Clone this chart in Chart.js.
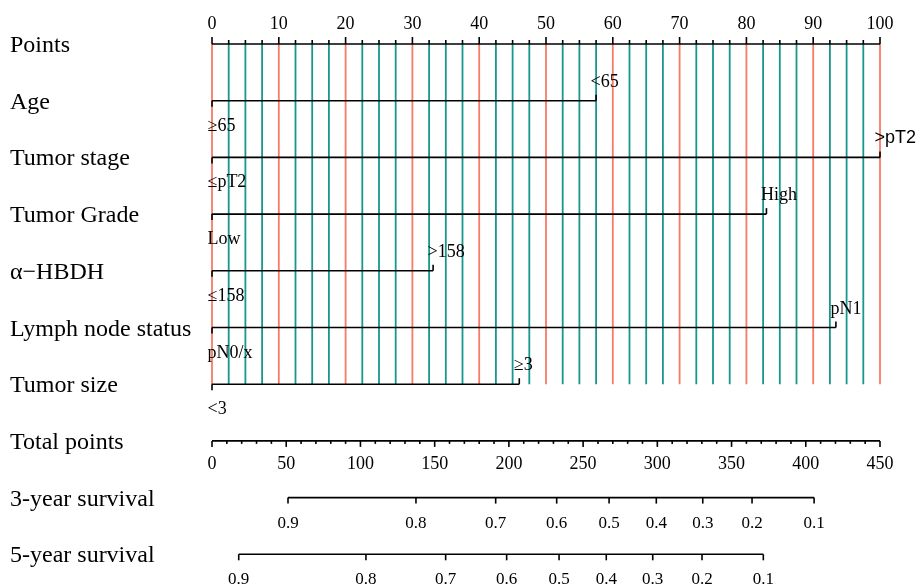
<!DOCTYPE html>
<html>
<head>
<meta charset="utf-8">
<script src="https://cdn.jsdelivr.net/npm/chart.js@4/dist/chart.umd.min.js"></script>
<style>
  html, body { margin: 0; padding: 0; background: #fff; }
  #wrap { width: 919px; height: 586px; }
</style>
</head>
<body>
<div id="wrap"><canvas id="nomo" width="919" height="586"></canvas></div>
<script>
// row titles, top to bottom
const rowNames = ['Points', 'Age', 'Tumor stage', 'Tumor Grade', '\u03b1\u2212HBDH',
  'Lymph node status', 'Tumor size', 'Total points', '3-year survival', '5-year survival'];

// points scale
const pointTicks = [0, 10, 20, 30, 40, 50, 60, 70, 80, 90, 100];

// predictors (row 1..6): low level sits at 0 points, high level at highPoints
const lowLabels = ['\u226565', '\u2264pT2', 'Low', '\u2264158', 'pN0/x', '<3'];
const highLabels = ['<65', '>pT2', 'High', '>158', 'pN1', '\u22653'];
const highPoints = [57.5, 100, 83, 33.1, 93.4, 46];

// total points scale
const totalTicks = [0, 50, 100, 150, 200, 250, 300, 350, 400, 450];

// survival scales (total points where each probability falls)
const survLabels = ['0.9', '0.8', '0.7', '0.6', '0.5', '0.4', '0.3', '0.2', '0.1'];
const surv3Points = [51.2, 137.4, 191.1, 232.2, 267.5, 299.3, 330.6, 363.8, 405.6];
const surv5Points = [18.0, 103.7, 157.4, 198.5, 233.8, 265.6, 296.9, 330.1, 371.4];

const RED = '#fa7a68';
const TEAL = '#17988f';
const serif = '"Liberation Serif", "Times New Roman", serif';
const sans = '"Liberation Sans", Arial, sans-serif';

// vertical guide lines every 2.5 points, from Points row down to Tumor size row
let redLines = [], tealLines = [];
for (let v = 0; v <= 100; v += 2.5) {
  let seg = [{x: v, y: 0}, {x: v, y: 6}, {x: v, y: null}];
  if (v % 10 === 0) redLines.push(...seg);
  else tealLines.push(...seg);
}

// axis segments
let pointAxes = [{x: 0, y: 0}, {x: 100, y: 0}, {x: 100, y: null}];
highPoints.forEach((p, i) => {
  pointAxes.push({x: 0, y: i + 1}, {x: p, y: i + 1}, {x: p, y: null});
});
let totalAxes = [
  {x: 0, y: 7}, {x: 450, y: 7}, {x: 450, y: null},
  {x: surv3Points[0], y: 8}, {x: surv3Points[surv3Points.length - 1], y: 8}, {x: 0, y: null},
  {x: surv5Points[0], y: 9}, {x: surv5Points[surv5Points.length - 1], y: 9}
];

const lineDs = (data, color, xAxisID, order, w) => ({
  data: data, xAxisID: xAxisID, showLine: true, spanGaps: false, clip: false,
  borderColor: color, borderWidth: w, pointRadius: 0, order: order
});

const nomoPlugin = {
  id: 'nomo',
  afterDatasetsDraw(chart) {
    const ctx = chart.ctx;
    const xs = chart.scales.x, xt = chart.scales.xTotal, ys = chart.scales.y;
    const X = v => xs.getPixelForValue(v);
    const XT = v => xt.getPixelForValue(v);
    const Y = r => ys.getPixelForValue(r);

    ctx.save();
    ctx.strokeStyle = '#000';
    ctx.lineWidth = 1.6;
    const tick = (x, y0, y1) => {
      ctx.beginPath(); ctx.moveTo(x, y0); ctx.lineTo(x, y1); ctx.stroke();
    };

    // row titles
    ctx.fillStyle = '#000';
    ctx.font = '24px ' + serif;
    ctx.textAlign = 'left';
    ctx.textBaseline = 'alphabetic';
    rowNames.forEach((n, i) => ctx.fillText(n, 10, Y(i) + 8));

    // points axis ticks (up) + labels
    const y0 = Y(0);
    for (let v = 0; v <= 100; v += 2.5) {
      tick(X(v), y0, y0 - (v % 10 === 0 ? 7 : 4));
    }
    ctx.font = '18px ' + serif;
    ctx.textAlign = 'center';
    pointTicks.forEach(v => ctx.fillText(String(v), X(v), y0 - 15));

    // predictor rows
    ctx.textAlign = 'left';
    highPoints.forEach((p, i) => {
      const y = Y(i + 1);
      tick(X(0), y, y + 6);
      tick(X(p), y, y - 6);
      ctx.font = '18px ' + serif;
      ctx.fillText(lowLabels[i], X(0) - 4.5, y + 30);
      ctx.font = (highLabels[i] === '>pT2' ? '18px ' + sans : '18px ' + serif);
      ctx.fillText(highLabels[i], X(p) - 5.5, y - 14);
    });

    // total points axis ticks (down) + labels
    const y7 = Y(7);
    for (let v = 0; v <= 450; v += 10) {
      tick(XT(v), y7, y7 + (v % 50 === 0 ? 6 : 3));
    }
    ctx.font = '18px ' + serif;
    ctx.textAlign = 'center';
    totalTicks.forEach(v => ctx.fillText(String(v), XT(v), y7 + 28.5));

    // survival axes
    [[surv3Points, 8], [surv5Points, 9]].forEach(([pts, r]) => {
      const y = Y(r);
      ctx.font = '17px ' + serif;
      pts.forEach((p, j) => {
        tick(XT(p), y, y + 6);
        ctx.fillText(survLabels[j], XT(p), y + 30);
      });
    });
    ctx.restore();
  }
};

new Chart(document.getElementById('nomo'), {
  type: 'scatter',
  data: {
    datasets: [
      lineDs(pointAxes, '#000', 'x', 0, 1.6),
      lineDs(totalAxes, '#000', 'xTotal', 0, 1.6),
      lineDs(redLines, RED, 'x', 2, 1.8),
      lineDs(tealLines, TEAL, 'x', 1, 1.8)
    ]
  },
  options: {
    responsive: false,
    devicePixelRatio: 1,
    animation: false,
    layout: { padding: { left: 212, right: 39, top: 44, bottom: 31.7 } },
    plugins: { legend: { display: false }, tooltip: { enabled: false } },
    scales: {
      x: { type: 'linear', min: 0, max: 100, display: false },
      xTotal: { type: 'linear', axis: 'x', min: 0, max: 450, display: false },
      y: { type: 'linear', min: 0, max: 9, reverse: true, display: false }
    }
  },
  plugins: [nomoPlugin]
});
</script>
</body>
</html>
